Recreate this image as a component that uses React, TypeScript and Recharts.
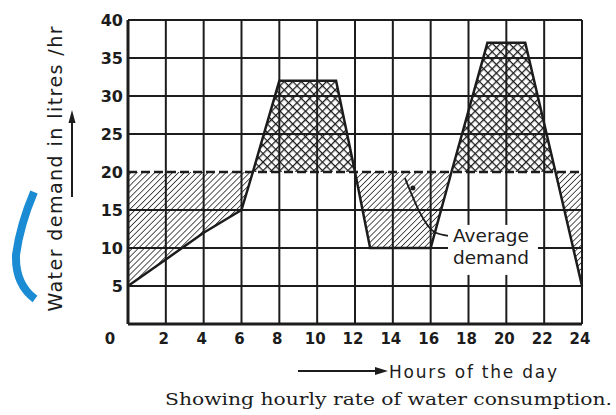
import {
  Area,
  CartesianGrid,
  ComposedChart,
  Line,
  ReferenceDot,
  ReferenceLine,
  XAxis,
  YAxis,
} from 'recharts'

// hourly demand (corner points of the demand polygon)
const hours = [0, 2, 4, 6, 6.6, 8, 11, 12, 12.8, 16, 17.1, 19, 21, 22.6, 24]
const demand = [5, 8.5, 12, 15, 20, 32, 32, 20, 10, 10, 20, 37, 37, 20, 5]
const averageDemand = 20

const xTicks = [0, 2, 4, 6, 8, 10, 12, 14, 16, 18, 20, 22, 24]
const yTicks = [0, 5, 10, 15, 20, 25, 30, 35, 40]
const gridYValues = yTicks.filter((v) => v !== averageDemand)

// pointer from the "Average demand" note to the dashed line
const leaderHours = [14.64, 16.2, 16.95]
const leaderValues = [19.2, 12.1, 11.6]
const leaderTip = { hour: 15.06, value: 17.9 }
const noteAnchor = { hour: 17.18, value: 10.8 }

const ink = '#1c1c1c'
const sans = '"DejaVu Sans", sans-serif'

const rows = hours.map((h, i) => ({
  hour: h,
  demand: demand[i],
  deficit: [Math.min(demand[i], averageDemand), averageDemand],
  surplus: [averageDemand, Math.max(demand[i], averageDemand)],
}))

const leader = leaderHours.map((h, i) => ({ hour: h, pointer: leaderValues[i] }))

function XTick({ x, y, payload }: any) {
  const shift = payload.value === 0 ? -18 : -2
  return (
    <text x={x + shift} y={y + 20} textAnchor="middle" fontFamily={sans} fontWeight="bold" fontSize={15} fill={ink}>
      {payload.value}
    </text>
  )
}

function YTick({ x, y, payload }: any) {
  if (payload.value === 0) return null
  return (
    <text x={x - 5} y={y + 6} textAnchor="end" fontFamily={sans} fontWeight="bold" fontSize={16} fill={ink}>
      {payload.value}
    </text>
  )
}

function NoteShape({ cx, cy }: any) {
  return (
    <g>
      <rect x={cx - 5} y={cy - 17} width={90} height={50} fill="#fff" />
      <text x={cx} y={cy} fontFamily={sans} fontSize={18.5} fill={ink}>
        Average
      </text>
      <text x={cx} y={cy + 22} fontFamily={sans} fontSize={18.5} fill={ink}>
        demand
      </text>
    </g>
  )
}

export default function App() {
  return (
    <div style={{ position: 'absolute', left: 0, top: 0, width: 616, height: 415, background: '#fff' }}>
      <ComposedChart
        width={616}
        height={415}
        data={rows}
        margin={{ top: 20, right: 34, bottom: 61, left: 88 }}
      >
        <defs>
          <pattern id="diag" width="4.2" height="4.2" patternUnits="userSpaceOnUse" patternTransform="rotate(45)">
            <line x1="0" y1="0" x2="0" y2="4.2" stroke={ink} strokeWidth="1.5" />
          </pattern>
          <pattern id="cross" width="6" height="6" patternUnits="userSpaceOnUse" patternTransform="rotate(45)">
            <path d="M0 0 H6 M0 0 V6" stroke={ink} strokeWidth="2.6" fill="none" />
          </pattern>
        </defs>
        <CartesianGrid stroke={ink} strokeWidth={2} horizontalValues={gridYValues} />
        <XAxis
          dataKey="hour"
          type="number"
          domain={[0, 24]}
          ticks={xTicks}
          interval={0}
          height={30}
          tickSize={0}
          tickMargin={0}
          tickLine={false}
          tick={<XTick />}
          axisLine={{ stroke: ink, strokeWidth: 3 }}
        />
        <YAxis
          type="number"
          domain={[0, 40]}
          ticks={yTicks}
          interval={0}
          width={40}
          tickSize={0}
          tickMargin={0}
          tickLine={false}
          tick={<YTick />}
          axisLine={{ stroke: ink, strokeWidth: 3 }}
        />
        <Area dataKey="deficit" type="linear" fill="url(#diag)" fillOpacity={1} stroke="none" isAnimationActive={false} />
        <Area dataKey="surplus" type="linear" fill="url(#cross)" fillOpacity={1} stroke="none" isAnimationActive={false} />
        <ReferenceLine y={averageDemand} stroke={ink} strokeWidth={2.5} strokeDasharray="9 4" />
        <Line dataKey="demand" type="linear" stroke={ink} strokeWidth={2.5} dot={false} isAnimationActive={false} />
        <Line
          data={leader}
          dataKey="pointer"
          type="monotone"
          stroke={ink}
          strokeWidth={1.8}
          dot={false}
          isAnimationActive={false}
        />
        <ReferenceDot x={leaderTip.hour} y={leaderTip.value} r={2.5} fill={ink} stroke="none" />
        <ReferenceDot x={noteAnchor.hour} y={noteAnchor.value} r={0} shape={<NoteShape />} />
      </ComposedChart>

      <svg width={616} height={415} style={{ position: 'absolute', left: 0, top: 0, pointerEvents: 'none' }}>
        <path d="M34 192 Q 20 225 16 255 Q 15 284 35 299" stroke="#1b8bd3" strokeWidth={8} fill="none" />
        <text
          transform="translate(62 169) rotate(-90)"
          textAnchor="middle"
          fontFamily={sans}
          fontSize={19}
          textLength={285}
          lengthAdjust="spacing"
          fill={ink}
        >
          Water demand in litres /hr
        </text>
        <line x1={72} y1={197} x2={72} y2={120} stroke={ink} strokeWidth={2} />
        <polygon points="72,110 68.5,123 75.5,123" fill={ink} />
        <line x1={298} y1={371} x2={378} y2={371} stroke={ink} strokeWidth={2} />
        <polygon points="388,371 375,367 375,375" fill={ink} />
        <text x={389} y={378} fontFamily={sans} fontSize={17} textLength={168} lengthAdjust="spacing" fill={ink}>
          Hours of the day
        </text>
        <text x={165} y={405} fontFamily='"DejaVu Serif", serif' fontSize={17} textLength={447} lengthAdjust="spacingAndGlyphs" fill={ink}>
          Showing hourly rate of water consumption.
        </text>
      </svg>
    </div>
  )
}
